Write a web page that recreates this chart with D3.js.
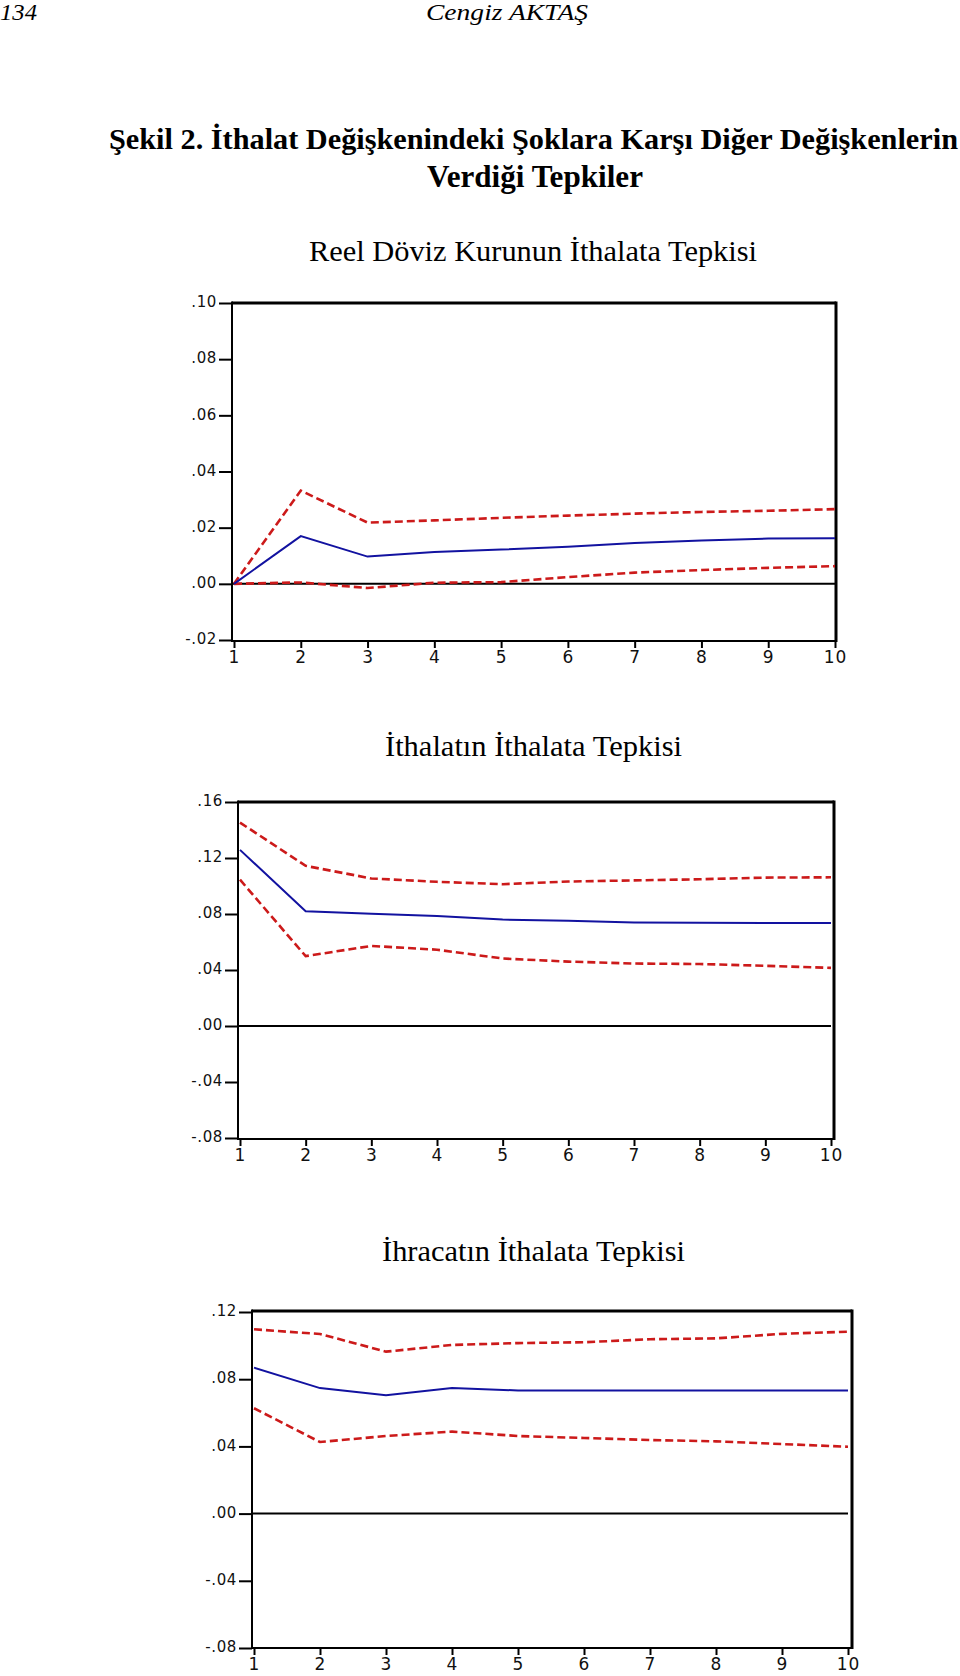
<!DOCTYPE html>
<html><head><meta charset="utf-8">
<script src="https://cdn.jsdelivr.net/npm/d3@7"></script>
<style>body{margin:0;background:#fff} svg{display:block}</style>
</head><body>
<svg id="c" width="960" height="1676"></svg>
<script>
// ---------- data ----------
const periods = [1,2,3,4,5,6,7,8,9,10];
const xTickLabels = ["1","2","3","4","5","6","7","8","9","10"];

// Chart 1: Reel Döviz Kurunun İthalata Tepkisi
const reelResponse = [0, 0.0170, 0.0097, 0.0113, 0.0122, 0.0132, 0.0145, 0.0154, 0.0161, 0.0162];
const reelUpper    = [0, 0.0332, 0.0218, 0.0226, 0.0235, 0.0243, 0.0250, 0.0256, 0.0260, 0.0266];
const reelLower    = [0, 0.0005, -0.0015, 0.0004, 0.0006, 0.0024, 0.0040, 0.0049, 0.0057, 0.0063];
const reelYTicks   = [-0.02, 0, 0.02, 0.04, 0.06, 0.08, 0.10];
const reelYLabels  = ["-.02", ".00", ".02", ".04", ".06", ".08", ".10"];

// Chart 2: İthalatın İthalata Tepkisi
const impResponse = [0.1258, 0.0820, 0.0801, 0.0786, 0.0760, 0.0752, 0.0740, 0.0737, 0.0735, 0.0735];
const impUpper    = [0.1453, 0.1144, 0.1054, 0.1030, 0.1013, 0.1032, 0.1040, 0.1048, 0.1060, 0.1062];
const impLower    = [0.1045, 0.0499, 0.0572, 0.0545, 0.0482, 0.0460, 0.0446, 0.0443, 0.0430, 0.0415];
const impYTicks   = [-0.08, -0.04, 0, 0.04, 0.08, 0.12, 0.16];
const impYLabels  = ["-.08", "-.04", ".00", ".04", ".08", ".12", ".16"];

// Chart 3: İhracatın İthalata Tepkisi
const ihrResponse = [0.0869, 0.0747, 0.0704, 0.0747, 0.0733, 0.0733, 0.0733, 0.0733, 0.0733, 0.0733];
const ihrUpper    = [0.1097, 0.1069, 0.0964, 0.1004, 0.1015, 0.1020, 0.1038, 0.1043, 0.1070, 0.1083];
const ihrLower    = [0.0627, 0.0426, 0.0462, 0.0488, 0.0462, 0.0450, 0.0438, 0.0430, 0.0414, 0.0398];
const ihrYTicks   = [-0.08, -0.04, 0, 0.04, 0.08, 0.12];
const ihrYLabels  = ["-.08", "-.04", ".00", ".04", ".08", ".12"];

const chartTitles = ["Reel Döviz Kurunun İthalata Tepkisi", "İthalatın İthalata Tepkisi", "İhracatın İthalata Tepkisi"];

// ---------- drawing ----------
const svg = d3.select("#c");
const SERIF = "'Liberation Serif','Times New Roman',serif";

function txt(s, x1, x2, base, size, weight, style) {
  svg.append("text").text(s)
    .attr("x", x1).attr("y", base)
    .attr("font-family", SERIF).attr("font-size", size)
    .attr("font-weight", weight || "normal").attr("font-style", style || "normal")
    .attr("textLength", x2 - x1).attr("lengthAdjust", "spacingAndGlyphs")
    .attr("fill", "#000");
}

// page header
txt("134", 0, 37, 20, 24, "normal", "italic");
txt("Cengiz AKTAŞ", 426, 588, 20, 24, "normal", "italic");
// figure title
txt("Şekil 2. İthalat Değişkenindeki Şoklara Karşı Diğer Değişkenlerin", 109, 958, 149, 30, "bold");
txt("Verdiği Tepkiler", 427, 643, 187, 31, "bold");

const layouts = [
  {l:232, r:836, t:303, b:641, xr:[234,835], yr:[640,303], dom:[-0.02,0.10],
   title:[309,757,261], resp:reelResponse, up:reelUpper, lo:reelLower, ticks:reelYTicks, labels:reelYLabels},
  {l:238, r:834, t:802, b:1139, xr:[240,831], yr:[1138,802], dom:[-0.08,0.16],
   title:[385,682,756], resp:impResponse, up:impUpper, lo:impLower, ticks:impYTicks, labels:impYLabels},
  {l:252, r:852, t:1311, b:1648, xr:[254,848], yr:[1648,1312], dom:[-0.08,0.12],
   title:[382,685,1261], resp:ihrResponse, up:ihrUpper, lo:ihrLower, ticks:ihrYTicks, labels:ihrYLabels}
];

layouts.forEach((c, i) => {
  txt(chartTitles[i], c.title[0], c.title[1], c.title[2], 30, "normal");

  const x = d3.scaleLinear().domain([1, 10]).range(c.xr);
  const y = d3.scaleLinear().domain(c.dom).range(c.yr);
  const g = svg.append("g");

  // y axis
  const ya = g.append("g").attr("transform", `translate(${c.l},0)`)
    .call(d3.axisLeft(y).tickValues(c.ticks).tickFormat((d, k) => c.labels[k]).tickSize(13).tickPadding(2));
  ya.select(".domain").remove();
  ya.selectAll(".tick line").attr("stroke", "#000").attr("stroke-width", 2);
  ya.selectAll(".tick text").attr("font-family", "'DejaVu Sans',sans-serif")
    .attr("font-size", 15).attr("letter-spacing", 0.6).attr("fill", "#111").attr("dy", "0.25em");

  // x axis
  const xa = g.append("g").attr("transform", `translate(0,${c.b})`)
    .call(d3.axisBottom(x).tickValues(periods).tickFormat((d, k) => xTickLabels[k]).tickSize(7).tickPadding(3));
  xa.select(".domain").remove();
  xa.selectAll(".tick line").attr("stroke", "#000").attr("stroke-width", 2);
  xa.selectAll(".tick text").attr("font-family", "'DejaVu Sans',sans-serif")
    .attr("font-size", 17).attr("letter-spacing", 1).attr("fill", "#111");

  // frame
  g.append("line").attr("x1", c.l).attr("x2", c.r).attr("y1", c.t).attr("y2", c.t).attr("stroke", "#000").attr("stroke-width", 3);
  g.append("line").attr("x1", c.r).attr("x2", c.r).attr("y1", c.t - 1.5).attr("y2", c.b + 1).attr("stroke", "#000").attr("stroke-width", 3);
  g.append("line").attr("x1", c.l).attr("x2", c.l).attr("y1", c.t - 1.5).attr("y2", c.b + 1).attr("stroke", "#000").attr("stroke-width", 2);
  g.append("line").attr("x1", c.l).attr("x2", c.r).attr("y1", c.b).attr("y2", c.b).attr("stroke", "#000").attr("stroke-width", 2);

  // zero line
  g.append("line").attr("x1", c.l).attr("x2", x(10)).attr("y1", y(0)).attr("y2", y(0)).attr("stroke", "#000").attr("stroke-width", 2);

  const line = d3.line().x((d, k) => x(periods[k])).y(d => y(d));
  g.append("path").attr("d", line(c.up)).attr("fill", "none").attr("stroke", "#cc1a1a").attr("stroke-width", 2.6).attr("stroke-dasharray", "8,4");
  g.append("path").attr("d", line(c.lo)).attr("fill", "none").attr("stroke", "#cc1a1a").attr("stroke-width", 2.6).attr("stroke-dasharray", "8,4");
  g.append("path").attr("d", line(c.resp)).attr("fill", "none").attr("stroke", "#1212a0").attr("stroke-width", 2);
});
</script>
</body></html>
